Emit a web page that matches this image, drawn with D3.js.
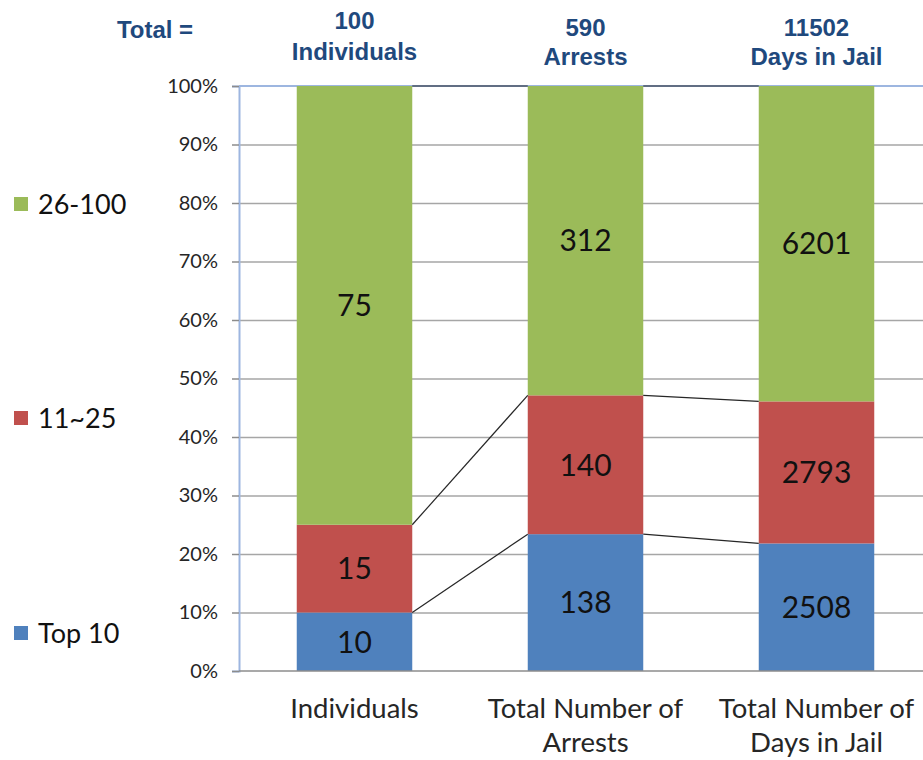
<!DOCTYPE html>
<html>
<head>
<meta charset="utf-8">
<script src="https://cdn.jsdelivr.net/npm/d3@7/dist/d3.min.js"></script>
<style>
  html, body { margin: 0; padding: 0; background: #ffffff; }
  svg { display: block; }
</style>
</head>
<body>
<svg id="chart" width="923" height="760"></svg>
<script>
// ---- data ----
const categories = ["Individuals", "Total Number of Arrests", "Total Number of Days in Jail"];
const categoryLines = [["Individuals"], ["Total Number of", "Arrests"], ["Total Number of", "Days in Jail"]];
const seriesNames = ["Top 10", "11~25", "26-100"];
const top10Values = [10, 138, 2508];
const midValues = [15, 140, 2793];
const restValues = [75, 312, 6201];
const totals = [100, 590, 11502];
const totalUnits = ["Individuals", "Arrests", "Days in Jail"];
const yTickValues = [0, 0.1, 0.2, 0.3, 0.4, 0.5, 0.6, 0.7, 0.8, 0.9, 1.0];
const colors = ["#4F81BD", "#C0504D", "#9BBB59"];

// ---- build table ----
const table = categories.map((c, i) => ({
  category: c,
  "Top 10": top10Values[i],
  "11~25": midValues[i],
  "26-100": restValues[i]
}));

const stack = d3.stack().keys(seriesNames).offset(d3.stackOffsetExpand);
const stacked = stack(table);

const svg = d3.select("#chart");
const plotLeft = 239, plotTop = 86, plotBottom = 671, plotRight = 932;

const x = d3.scaleBand().domain(categories).range([plotLeft, plotRight])
  .paddingInner(0.5).paddingOuter(0.25);
const y = d3.scaleLinear().domain([0, 1]).range([plotBottom, plotTop]);
const color = d3.scaleOrdinal().domain(seriesNames).range(colors);

const labelFont = "Lato, 'Noto Sans', sans-serif";

// gridlines
const grid = svg.append("g")
  .attr("transform", `translate(${plotLeft},0)`)
  .call(d3.axisLeft(y).tickValues(yTickValues.filter(v => v > 0 && v < 1)).tickSize(-(plotRight - plotLeft)).tickFormat(""));
grid.select(".domain").remove();
grid.selectAll("line").attr("stroke", "#a6a6a6").attr("stroke-width", 1.5);

// top border (light blue)
svg.append("line")
  .attr("x1", plotLeft).attr("x2", plotRight)
  .attr("y1", y(1)).attr("y2", y(1))
  .attr("stroke", "#9db6e0").attr("stroke-width", 2);

// bars
const layer = svg.append("g").selectAll("g").data(stacked).join("g")
  .attr("fill", d => color(d.key));
layer.selectAll("rect").data(d => d).join("rect")
  .attr("x", d => x(d.data.category))
  .attr("width", x.bandwidth())
  .attr("y", d => y(d[1]))
  .attr("height", d => y(d[0]) - y(d[1]));

// series lines (connect segment tops between adjacent bars)
const seriesLines = svg.append("g");
stacked.forEach(s => {
  for (let i = 0; i < s.length - 1; i++) {
    const a = s[i], b = s[i + 1];
    seriesLines.append("line")
      .attr("x1", x(a.data.category) + x.bandwidth())
      .attr("y1", y(a[1]))
      .attr("x2", x(b.data.category))
      .attr("y2", y(b[1]))
      .attr("stroke", "#262626")
      .attr("stroke-width", 1.2);
  }
});

// data labels
stacked.forEach(s => {
  svg.append("g").selectAll("text").data(s).join("text")
    .attr("x", d => x(d.data.category) + x.bandwidth() / 2)
    .attr("y", d => (y(d[0]) + y(d[1])) / 2)
    .attr("dy", "0.36em")
    .attr("text-anchor", "middle")
    .attr("font-family", labelFont)
    .attr("font-size", 30)
    .attr("fill", "#111")
    .text(d => d.data[s.key]);
});

// y axis
const yAxis = svg.append("g")
  .attr("transform", `translate(${plotLeft},0)`)
  .call(d3.axisLeft(y).tickValues(yTickValues).tickSize(7).tickPadding(14).tickFormat(d3.format(".0%")));
yAxis.select(".domain").attr("stroke", "#9db6e0").attr("stroke-width", 2);
yAxis.selectAll(".tick line").attr("stroke", "#8c8c8c").attr("stroke-width", 1.5);
yAxis.selectAll("text")
  .attr("font-family", labelFont)
  .attr("font-size", 20)
  .attr("fill", "#262626");

// x axis baseline
svg.append("line")
  .attr("x1", plotLeft).attr("x2", plotRight)
  .attr("y1", y(0)).attr("y2", y(0))
  .attr("stroke", "#8c8c8c").attr("stroke-width", 1.5);

// category labels
const xl = svg.append("g").selectAll("text").data(categories).join("text")
  .attr("x", d => x(d) + x.bandwidth() / 2)
  .attr("y", 718)
  .attr("text-anchor", "middle")
  .attr("font-family", labelFont)
  .attr("font-size", 27.5)
  .attr("fill", "#262626");
xl.each(function(d, i) {
  const t = d3.select(this);
  categoryLines[i].forEach((line, j) => {
    t.append("tspan")
      .attr("x", x(d) + x.bandwidth() / 2)
      .attr("dy", j === 0 ? 0 : 34)
      .text(line);
  });
});

// header totals
const headFont = "'Liberation Sans', Arial, sans-serif";
const headColor = "#1F497D";
svg.append("text")
  .attr("x", 155).attr("y", 38)
  .attr("text-anchor", "middle")
  .attr("font-family", headFont).attr("font-weight", "bold")
  .attr("font-size", 24).attr("fill", headColor)
  .text("Total =");
const headerY = [[29, 60], [36, 65], [36, 65]];
categories.forEach((c, i) => {
  const cx = x(c) + x.bandwidth() / 2;
  [String(totals[i]), totalUnits[i]].forEach((txt, j) => {
    svg.append("text")
      .attr("x", cx).attr("y", headerY[i][j])
      .attr("text-anchor", "middle")
      .attr("font-family", headFont).attr("font-weight", "bold")
      .attr("font-size", 24).attr("fill", headColor)
      .text(txt);
  });
});

// legend
const legendY = [633, 418, 204];
const legend = svg.append("g").selectAll("g").data(seriesNames).join("g")
  .attr("transform", (d, i) => `translate(14,${legendY[i]})`);
legend.append("rect")
  .attr("x", 0).attr("y", -7).attr("width", 14).attr("height", 14)
  .attr("fill", d => color(d));
legend.append("text")
  .attr("x", 24).attr("y", 0).attr("dy", "0.36em")
  .attr("font-family", labelFont).attr("font-size", 27)
  .attr("fill", "#111")
  .text(d => d);
</script>
</body>
</html>
